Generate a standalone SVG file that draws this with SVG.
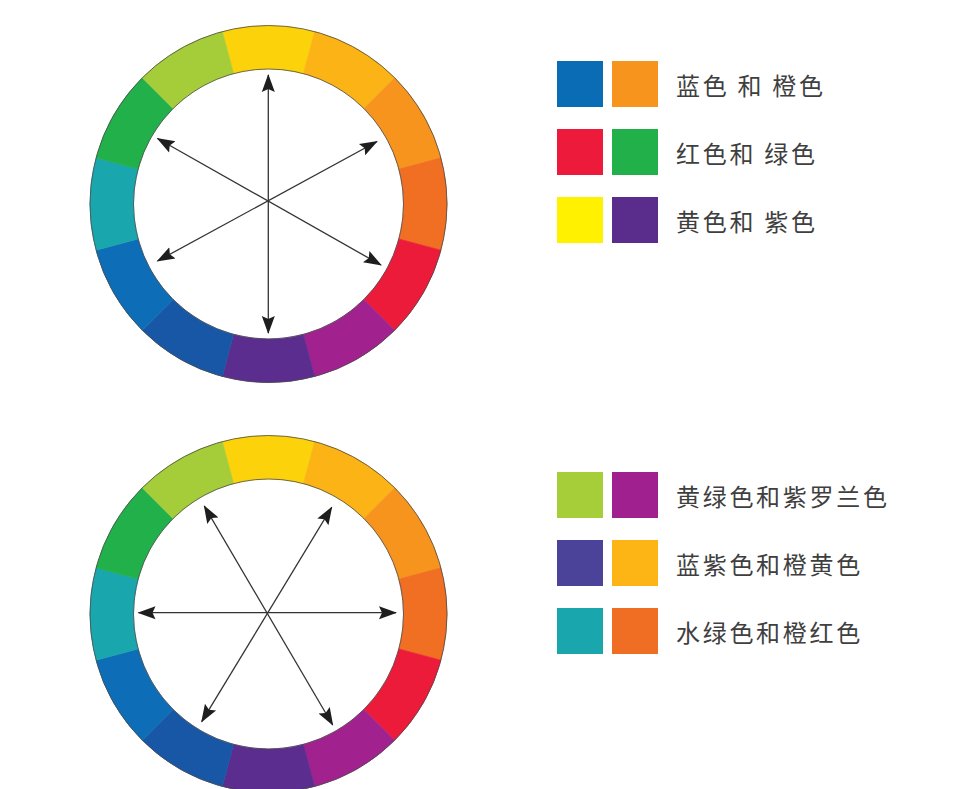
<svg xmlns="http://www.w3.org/2000/svg" width="977" height="789" viewBox="0 0 977 789">
  <style>
    .ring { fill: none; stroke: #4a4a4a; stroke-width: 0.8; }
    .arrow { stroke: #333333; stroke-width: 1.3; fill: none; marker-start: url(#head); marker-end: url(#head); }
    .label { font-family: "Noto Sans CJK SC", "Noto Sans", sans-serif; font-size: 24px; letter-spacing: 2.7px; fill: #3f3f3f; }
    .seg { stroke-width: 0.6; }
  </style>
  <defs>
    <path id="sector" d="M -46.199,-172.418 A 178.5 178.5 0 0 1 46.199,-172.418 L 34.941,-130.400 A 135 135 0 0 0 -34.941,-130.400 Z"/>
    <marker id="head" markerUnits="userSpaceOnUse" viewBox="0 -8 20 16" markerWidth="20" markerHeight="16" refX="17" refY="0" orient="auto-start-reverse">
      <path d="M0,-6.5 L18,0 L0,6.5 L3,0 Z" fill="#1e1e1e"/>
    </marker>
    <g id="wheel">
      <use href="#sector" class="seg" fill="#FCD20A" stroke="#FCD20A" transform="rotate(0)"/>
      <use href="#sector" class="seg" fill="#FBB316" stroke="#FBB316" transform="rotate(30)"/>
      <use href="#sector" class="seg" fill="#F7941E" stroke="#F7941E" transform="rotate(60)"/>
      <use href="#sector" class="seg" fill="#F06F22" stroke="#F06F22" transform="rotate(90)"/>
      <use href="#sector" class="seg" fill="#ED1B3A" stroke="#ED1B3A" transform="rotate(120)"/>
      <use href="#sector" class="seg" fill="#A1218F" stroke="#A1218F" transform="rotate(150)"/>
      <use href="#sector" class="seg" fill="#5B2D8E" stroke="#5B2D8E" transform="rotate(180)"/>
      <use href="#sector" class="seg" fill="#1857A6" stroke="#1857A6" transform="rotate(210)"/>
      <use href="#sector" class="seg" fill="#0D6DB7" stroke="#0D6DB7" transform="rotate(240)"/>
      <use href="#sector" class="seg" fill="#1AA6AD" stroke="#1AA6AD" transform="rotate(270)"/>
      <use href="#sector" class="seg" fill="#22B04B" stroke="#22B04B" transform="rotate(300)"/>
      <use href="#sector" class="seg" fill="#A5CD39" stroke="#A5CD39" transform="rotate(330)"/>
      <circle class="ring" cx="0" cy="0" r="178.5"/>
      <circle class="ring" cx="0" cy="0" r="135"/>
    </g>
  </defs>

  <rect x="0" y="0" width="977" height="789" fill="#ffffff"/>

  <g id="wheel-top">
    <use href="#wheel" transform="translate(268.5,204)"/>
  </g>
  <g id="wheel-bottom">
    <use href="#wheel" transform="translate(268.5,614)"/>
  </g>

  <g id="connectors">
    <line class="arrow" x1="268.3" y1="75" x2="268.3" y2="333"/>
    <line class="arrow" x1="157.5" y1="138.5" x2="381" y2="265"/>
    <line class="arrow" x1="377" y1="141.5" x2="157.5" y2="261"/>
    <line class="arrow" x1="138.5" y1="612.7" x2="396" y2="612.7"/>
    <line class="arrow" x1="204.3" y1="506" x2="332.7" y2="725"/>
    <line class="arrow" x1="331.7" y1="507.3" x2="201.7" y2="721.7"/>
  </g>

  <g id="legend-1">
    <rect x="557" y="61" width="46" height="46" fill="#0B6CB6"/>
    <rect x="612" y="61" width="46" height="46" fill="#F7941E"/>
    <text class="label" x="676" y="95">蓝色 和 橙色</text>
  </g>
  <g id="legend-2">
    <rect x="557" y="129" width="46" height="46" fill="#ED1A3B"/>
    <rect x="612" y="129" width="46" height="46" fill="#22B04B"/>
    <text class="label" x="676" y="162.5">红色和 绿色</text>
  </g>
  <g id="legend-3">
    <rect x="557" y="197" width="46" height="46" fill="#FFF100"/>
    <rect x="612" y="197" width="46" height="46" fill="#5A2D8C"/>
    <text class="label" x="676" y="230.5">黄色和 紫色</text>
  </g>
  <g id="legend-4">
    <rect x="557" y="472" width="46" height="46" fill="#A6CE39"/>
    <rect x="612" y="472" width="46" height="46" fill="#A1208F"/>
    <text class="label" x="676" y="505.5">黄绿色和紫罗兰色</text>
  </g>
  <g id="legend-5">
    <rect x="557" y="540" width="46" height="46" fill="#4A4399"/>
    <rect x="612" y="540" width="46" height="46" fill="#FDB515"/>
    <text class="label" x="676" y="573.5">蓝紫色和橙黄色</text>
  </g>
  <g id="legend-6">
    <rect x="557" y="608" width="46" height="46" fill="#19A6AD"/>
    <rect x="612" y="608" width="46" height="46" fill="#F06E24"/>
    <text class="label" x="676" y="641.5">水绿色和橙红色</text>
  </g>
</svg>
